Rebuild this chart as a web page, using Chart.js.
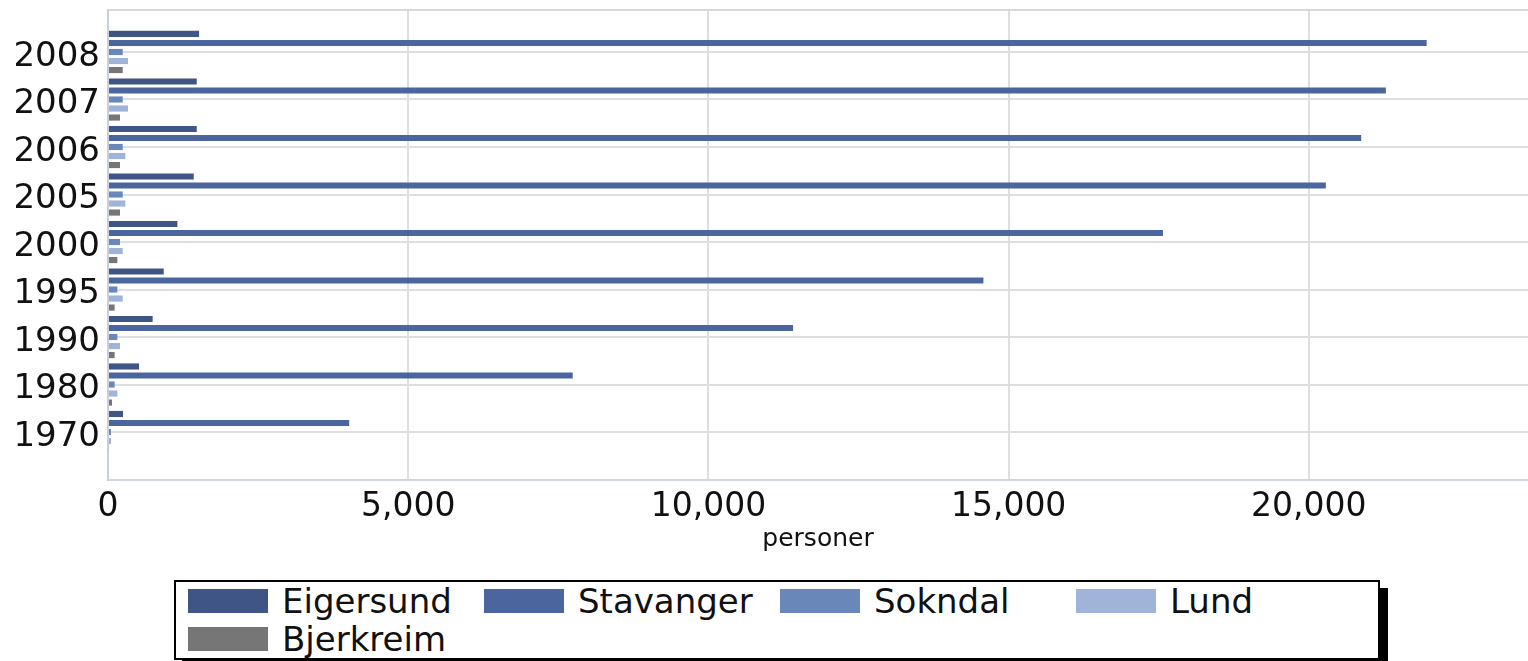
<!DOCTYPE html>
<html>
<head>
<meta charset="utf-8">
<script src="https://cdn.jsdelivr.net/npm/chart.js@4"></script>
<style>
    body { margin: 0; background: #fff; font-family: "DejaVu Sans", sans-serif; }
    .chart-wrap { position: relative; width: 1528px; height: 575px; }
    .legend {
        position: absolute; left: 174px; top: 580px; width: 1206px; height: 80px;
        border: 2px solid #000; box-shadow: 8px 8px 0 #000; background: #fff;
        padding: 0 0 0 12px; box-sizing: border-box;
        display: grid; grid-template-columns: repeat(4, 296px); grid-auto-rows: 38px;
    }
    .legend-item { display: flex; align-items: center; font-size: 34px; color: #111; height: 38px; white-space: nowrap; }
    .legend-item span.box { width: 80px; height: 24px; margin-right: 14px; flex: none; }
</style>
</head>
<body>
<div class="chart-wrap"><canvas id="chart"></canvas></div>
<div class="legend" id="legend"></div>
<script>
// Data (years bottom to top)
const years = ['1970', '1980', '1990', '1995', '2000', '2005', '2006', '2007', '2008'];
const eigersund = [250, 517, 744, 928, 1156, 1428, 1478, 1478, 1517];
const stavanger = [4017, 7740, 11410, 14580, 17570, 20283, 20872, 21283, 21962];
const sokndal = [50, 111, 156, 156, 200, 245, 245, 245, 245];
const lund = [50, 156, 200, 245, 245, 289, 289, 333, 333];
const bjerkreim = [15, 67, 111, 111, 156, 200, 200, 200, 245];
const xTicks = [0, 5000, 10000, 15000, 20000];

const series = [
    { label: 'Eigersund', values: eigersund, color: '#3f5586' },
    { label: 'Stavanger', values: stavanger, color: '#4b669f' },
    { label: 'Sokndal', values: sokndal, color: '#6a87ba' },
    { label: 'Lund', values: lund, color: '#a0b3d8' },
    { label: 'Bjerkreim', values: bjerkreim, color: '#767676' }
];

// top edge of the plot frame
const framePlugin = {
    id: 'frame',
    afterDraw(chart) {
        const { ctx, chartArea } = chart;
        ctx.save();
        ctx.strokeStyle = '#d8d8d8';
        ctx.lineWidth = 2;
        ctx.beginPath();
        ctx.moveTo(chartArea.left, chartArea.top);
        ctx.lineTo(chartArea.right, chartArea.top);
        ctx.stroke();
        ctx.restore();
    }
};

const chart = new Chart(document.getElementById('chart'), {
    type: 'bar',
    data: {
        datasets: series.map(s => ({
            label: s.label,
            data: s.values.map((v, i) => ({ x: v, y: i })),
            backgroundColor: s.color,
            borderWidth: 0,
            categoryPercentage: 0.95,
            barPercentage: 0.68
        }))
    },
    options: {
        indexAxis: 'y',
        responsive: true,
        maintainAspectRatio: false,
        animation: false,
        layout: { padding: { top: 10, right: 0, left: 0, bottom: 21 } },
        plugins: {
            legend: { display: false },
            tooltip: { enabled: false }
        },
        scales: {
            x: {
                type: 'linear',
                min: 0,
                max: 23650,
                afterFit: scale => { scale.height = 74; },
                afterBuildTicks: scale => { scale.ticks = xTicks.map(v => ({ value: v })); },
                ticks: {
                    padding: 8,
                    color: '#111',
                    font: { family: 'DejaVu Sans', size: 33 },
                    callback: v => v.toLocaleString('en-US')
                },
                grid: { color: '#dedede', lineWidth: 2, drawTicks: false },
                border: { color: '#d0d4dc', width: 2 },
                title: {
                    display: true,
                    text: 'personer',
                    color: '#111',
                    font: { family: 'DejaVu Sans', size: 25 },
                    padding: { top: 0, bottom: 0 }
                }
            },
            y: {
                type: 'linear',
                offset: false,
                min: -1.01,
                max: 8.884,
                afterFit: scale => {
                    scale.width = 108;
                    scale.paddingTop = 0;
                    scale.paddingBottom = 0;
                },
                afterBuildTicks: scale => { scale.ticks = years.map((y, i) => ({ value: i })); },
                ticks: {
                    padding: 8,
                    labelOffset: 5,
                    color: '#111',
                    font: { family: 'DejaVu Sans', size: 34 },
                    callback: v => years[v] || ''
                },
                grid: { color: '#dedede', lineWidth: 2, drawTicks: false, offset: false },
                border: { color: '#c8d0e0', width: 2 }
            }
        }
    },
    plugins: [framePlugin]
});

// HTML legend in fixed columns
const legend = document.getElementById('legend');
legend.innerHTML = series.map(s => `
    <div class="legend-item"><span class="box" style="background:${s.color}"></span>${s.label}</div>
`).join('');
</script>
</body>
</html>
